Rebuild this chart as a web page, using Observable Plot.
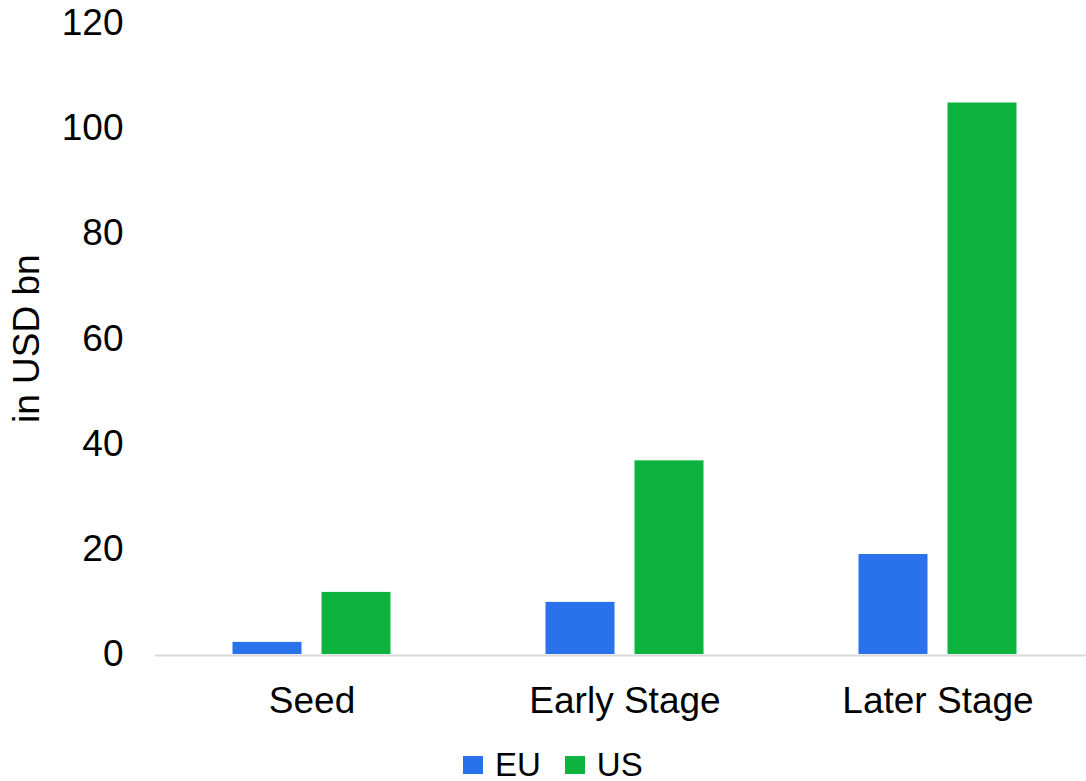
<!DOCTYPE html>
<html>
<head>
<meta charset="utf-8">
<script src="https://cdn.jsdelivr.net/npm/d3@7"></script>
<script src="https://cdn.jsdelivr.net/npm/@observablehq/plot@0.6"></script>
<style>
  html, body { margin: 0; padding: 0; background: #fff; overflow: hidden; }
  body { font-family: "Liberation Sans", Arial, sans-serif; width: 1086px; height: 781px; position: relative; }
  #chart svg { display: block; max-width: none !important; }
  #legend { position: absolute; left: 463px; top: 745px; display: flex; align-items: center; font-size: 33px; color: #000; line-height: 40px; }
  #legend .item { display: flex; align-items: center; margin-right: 24px; }
  #legend .sw { width: 20px; height: 18px; margin-right: 12px; }
</style>
</head>
<body>
<div id="chart"></div>
<div id="legend"></div>
<script>
// Venture funding by stage, EU vs US (USD bn)
const stages = ["Seed", "Early Stage", "Later Stage"];
const series = ["EU", "US"];
const euValues = [2.3, 9.9, 19.0];
const usValues = [11.8, 36.8, 104.8];
const seriesColors = ["#2a71ec", "#0db33f"];
const yTicks = [0, 20, 40, 60, 80, 100, 120];

const rows = stages.flatMap((stage, i) => [
  {stage, region: "EU", value: euValues[i]},
  {stage, region: "US", value: usValues[i]}
]);

// The last band runs a little past the window edge, as the axis line does
const plot = Plot.plot({
  width: 1094,
  height: 740,
  marginLeft: 154.5,
  marginRight: 0,
  marginTop: 22.5,
  marginBottom: 86,
  style: {fontFamily: "'Liberation Sans', Arial, sans-serif", fontSize: "37px", color: "#000", background: "#fff", maxWidth: "none"},
  fx: {domain: stages, padding: 0, label: null},
  x: {domain: series, axis: null, paddingInner: 0.222, paddingOuter: 0.85},
  y: {domain: [0, 120], ticks: yTicks, label: null},
  color: {domain: series, range: seriesColors},
  marks: [
    Plot.ruleY([0], {stroke: "#d9d9d9", strokeWidth: 2, dy: 1}),
    Plot.barY(rows, {fx: "stage", x: "region", y: "value", fill: "region"}),
    Plot.axisY({
      ticks: yTicks, tickSize: 0, tickPadding: 32, fontSize: 37,
      label: "in USD bn", labelAnchor: "center", labelArrow: "none", labelOffset: 143
    }),
    Plot.axisFx({anchor: "bottom", tickSize: 0, tickPadding: 32, fontSize: 37, label: null})
  ]
});
plot.style.maxWidth = "none";
document.getElementById("chart").appendChild(plot);

// Legend below the chart, using the same colour scale
const color = plot.scale("color");
const legend = document.getElementById("legend");
series.forEach((name, i) => {
  const item = document.createElement("div");
  item.className = "item";
  const sw = document.createElement("div");
  sw.className = "sw";
  sw.style.background = color.range[i];
  const label = document.createElement("span");
  label.textContent = name;
  item.appendChild(sw);
  item.appendChild(label);
  legend.appendChild(item);
});
</script>
</body>
</html>
